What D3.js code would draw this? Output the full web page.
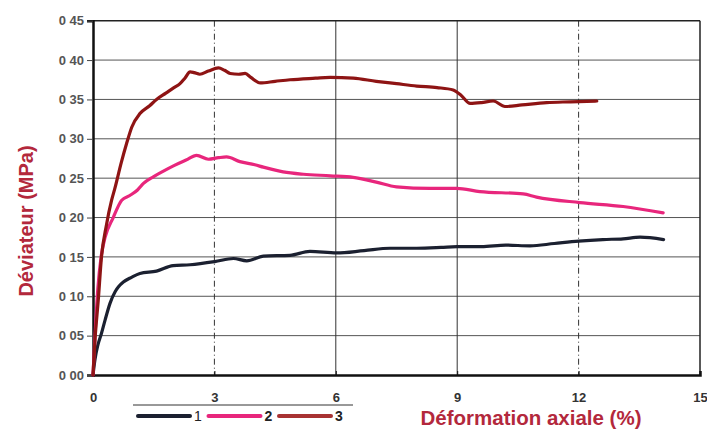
<!DOCTYPE html>
<html>
<head>
<meta charset="utf-8">
<script src="https://cdn.jsdelivr.net/npm/d3@7"></script>
<style>
  body { margin: 0; background: #fff; }
  svg { display: block; font-family: "Liberation Sans", Arial, sans-serif; }
</style>
</head>
<body>
<svg id="viz"></svg>
<script>
// ----------------------------------------------------------------------------------------------------------------
// DATA

var xTicks = [0, 3, 6, 9, 12, 15];
var yTicks = [0, 0.05, 0.10, 0.15, 0.20, 0.25, 0.30, 0.35, 0.40, 0.45];
var seriesNames = ["1", "2", "3"];

var serie1 = [
  [0, 0], [0.05, 0.02], [0.12, 0.038], [0.21, 0.053], [0.3, 0.07], [0.42, 0.091], [0.55, 0.106],
  [0.63, 0.112], [0.75, 0.118], [0.95, 0.124], [1.16, 0.129], [1.57, 0.132], [1.98, 0.139],
  [2.4, 0.140], [3.01, 0.144], [3.47, 0.148], [3.8, 0.145], [4.21, 0.151], [4.87, 0.152],
  [5.36, 0.157], [6.02, 0.155], [6.7, 0.158], [7.34, 0.161], [8.0, 0.161], [8.6, 0.162],
  [9.0, 0.163], [9.6, 0.163], [10.2, 0.165], [10.8, 0.164], [11.4, 0.167], [12.0, 0.170],
  [12.6, 0.172], [13.1, 0.173], [13.52, 0.175], [14.1, 0.172]
];

var serie2 = [
  [0, 0], [0.05, 0.05], [0.12, 0.11], [0.2, 0.15], [0.3, 0.175], [0.5, 0.200], [0.71, 0.222],
  [0.91, 0.228], [1.1, 0.235], [1.24, 0.243], [1.5, 0.252], [1.74, 0.259], [2.0, 0.266],
  [2.3, 0.273], [2.56, 0.279], [2.85, 0.274], [3.1, 0.276], [3.3, 0.277], [3.63, 0.271],
  [4.0, 0.267], [4.21, 0.264], [4.7, 0.258], [5.2, 0.255], [5.86, 0.253], [6.43, 0.251],
  [7.0, 0.245], [7.5, 0.239], [8.33, 0.237], [8.99, 0.237], [9.56, 0.233], [10.63, 0.230],
  [10.96, 0.226], [12.03, 0.219], [13.1, 0.214], [14.09, 0.206]
];

var serie3 = [
  [0, 0], [0.05, 0.045], [0.13, 0.095], [0.21, 0.15], [0.33, 0.19], [0.46, 0.222], [0.54, 0.237],
  [0.7, 0.27], [0.83, 0.294], [0.96, 0.315], [1.16, 0.332], [1.4, 0.342], [1.57, 0.350],
  [1.8, 0.358], [2.0, 0.365], [2.15, 0.370], [2.27, 0.377], [2.4, 0.385], [2.5, 0.384],
  [2.64, 0.382], [2.85, 0.386], [3.1, 0.390], [3.25, 0.387], [3.39, 0.383], [3.6, 0.382],
  [3.76, 0.383], [3.9, 0.378], [4.13, 0.371], [4.5, 0.373], [4.87, 0.375], [5.5, 0.377],
  [5.86, 0.378], [6.43, 0.377], [7.0, 0.373], [7.5, 0.370], [8.0, 0.367], [8.5, 0.365],
  [8.9, 0.362], [9.1, 0.355], [9.32, 0.345], [9.6, 0.346], [9.89, 0.348], [10.18, 0.341],
  [10.6, 0.343], [11.21, 0.346], [11.8, 0.347], [12.45, 0.348]
];

// ----------------------------------------------------------------------------------------------------------------
// INITIAL SETUP

var w = 707;
var h = 432;
var viz = d3.select("#viz").attr("width", w).attr("height", h);

var x = d3.scaleLinear().domain([0, 15]).range([93, 700]);
var y = d3.scaleLinear().domain([0, 0.45]).range([375, 20.7]);

var colors = ["#1b2030", "#e8267c", "#8e1414"];
var titleRed = "#b3283c";

// ----------------------------------------------------------------------------------------------------------------
// GRID

viz.selectAll("line.hgrid")
  .data(yTicks.slice(1, -1))
  .enter()
  .append("line")
  .attr("x1", x(0)).attr("x2", x(15))
  .attr("y1", function(d) { return y(d); })
  .attr("y2", function(d) { return y(d); })
  .attr("stroke", "#555")
  .attr("stroke-width", 1);

viz.selectAll("line.vgrid")
  .data(xTicks.slice(1, -1))
  .enter()
  .append("line")
  .attr("x1", function(d) { return x(d); })
  .attr("x2", function(d) { return x(d); })
  .attr("y1", y(0.45)).attr("y2", y(0))
  .attr("stroke", "#333")
  .attr("stroke-width", 1)
  .attr("stroke-dasharray", function(d) { return (d === 3 || d === 12) ? "6,3,1,3" : null; });

// frame
viz.append("line").attr("x1", x(0)).attr("x2", x(15)).attr("y1", y(0.45)).attr("y2", y(0.45))
  .attr("stroke", "#222").attr("stroke-width", 1.5);
viz.append("line").attr("x1", x(15)).attr("x2", x(15)).attr("y1", y(0.45)).attr("y2", y(0))
  .attr("stroke", "#222").attr("stroke-width", 1.5);

// ----------------------------------------------------------------------------------------------------------------
// AXES

var yAxis = d3.axisLeft(y)
  .tickValues(yTicks)
  .tickSize(6)
  .tickPadding(3)
  .tickFormat(function(d) { return d3.format(".2f")(d).replace(".", " "); });

var gy = viz.append("g").attr("transform", "translate(" + x(0) + ",0)").call(yAxis);
gy.select(".domain").attr("stroke", "#111").attr("stroke-width", 2.5);
gy.selectAll(".tick line").attr("stroke", "#444");
gy.selectAll(".tick text")
  .attr("fill", "#555")
  .style("font-size", "13px")
  .style("font-weight", "bold");

var xAxis = d3.axisBottom(x)
  .tickValues(xTicks)
  .tickSize(-4)
  .tickPadding(18)
  .tickFormat(d3.format("d"));

var gx = viz.append("g").attr("transform", "translate(0," + y(0) + ")").call(xAxis);
gx.select(".domain").attr("stroke", "#111").attr("stroke-width", 2.5);
gx.selectAll(".tick line").attr("stroke", "#111");
gx.selectAll(".tick text")
  .attr("fill", "#333")
  .style("font-size", "13px")
  .style("font-weight", "bold");

// axis titles
viz.append("text")
  .text("Déformation axiale (%)")
  .attr("x", 531).attr("y", 425)
  .attr("text-anchor", "middle")
  .attr("fill", titleRed)
  .style("font-size", "20.5px")
  .style("font-weight", "bold");

viz.append("text")
  .text("Déviateur (MPa)")
  .attr("transform", "translate(33,221) rotate(-90)")
  .attr("text-anchor", "middle")
  .attr("fill", titleRed)
  .style("font-size", "20px")
  .style("font-weight", "bold");

// ----------------------------------------------------------------------------------------------------------------
// CURVES

var line = d3.line()
  .x(function(d) { return x(d[0]); })
  .y(function(d) { return y(d[1]); })
  .curve(d3.curveMonotoneX);

viz.selectAll("path.serie")
  .data([serie1, serie2, serie3])
  .enter()
  .append("path")
  .attr("class", "serie")
  .attr("d", line)
  .attr("fill", "none")
  .attr("stroke", function(d, i) { return colors[i]; })
  .attr("stroke-width", 3.2)
  .attr("stroke-linejoin", "round")
  .attr("stroke-linecap", "round");

// ----------------------------------------------------------------------------------------------------------------
// LEGEND

var legend = viz.append("g");
legend.append("line")
  .attr("x1", 133).attr("x2", 353).attr("y1", 405).attr("y2", 405)
  .attr("stroke", "#333").attr("stroke-width", 1);

var item = legend.selectAll("g.item")
  .data(seriesNames)
  .enter()
  .append("g")
  .attr("transform", function(d, i) { return "translate(" + (138 + i * 70.5) + ",416)"; });

item.append("line")
  .attr("x1", 0).attr("x2", 52).attr("y1", 0).attr("y2", 0)
  .attr("stroke", function(d, i) { return i === 2 ? "#a83232" : colors[i]; })
  .attr("stroke-width", 4)
  .attr("stroke-linecap", "round");

item.append("text")
  .text(function(d) { return d; })
  .attr("x", 56).attr("y", 5)
  .attr("fill", "#222")
  .style("font-size", "14px")
  .style("font-weight", function(d, i) { return i === 0 ? "normal" : "bold"; });
</script>
</body>
</html>
